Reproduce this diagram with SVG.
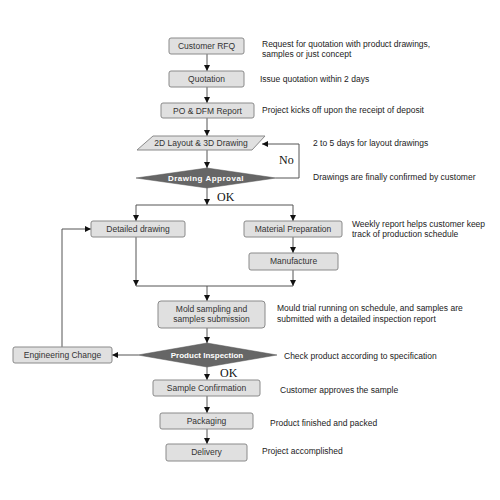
<svg xmlns="http://www.w3.org/2000/svg" width="500" height="500" viewBox="0 0 500 500">
<style>
.box{fill:#e0e0e0;stroke:#8a8a8a;stroke-width:1}
.dia{fill:#666;stroke:#555;stroke-width:0.5}
.bt{font-family:"Liberation Sans",Arial,sans-serif;font-size:8.5px;fill:#333;text-anchor:middle}
.dt{font-family:"Liberation Sans",Arial,sans-serif;font-size:8px;font-weight:bold;fill:#fff;text-anchor:middle}
.nt{font-family:"Liberation Sans",Arial,sans-serif;font-size:8.5px;fill:#222}
.st{font-family:"Liberation Serif","Times New Roman",serif;font-size:12px;fill:#111}
.ln{fill:none;stroke:#555;stroke-width:1}
</style>
<defs>
<marker id="ah" viewBox="0 0 10 10" refX="10" refY="5" markerWidth="6" markerHeight="6" markerUnits="userSpaceOnUse" orient="auto">
<path d="M0,0 L10,5 L0,10 z" fill="#111"/>
</marker>
</defs>
<rect width="500" height="500" fill="#fff"/>
<g id="connectors">
<path class="ln" d="M207,54 V71" marker-end="url(#ah)"/>
<path class="ln" d="M207,87 V103" marker-end="url(#ah)"/>
<path class="ln" d="M207,118 V136" marker-end="url(#ah)"/>
<path class="ln" d="M207,150 V168" marker-end="url(#ah)"/>
<path class="ln" d="M276,178 H299 V144 H262" marker-end="url(#ah)"/>
<path class="ln" d="M207,188 V205" marker-end="url(#ah)"/>
<path class="ln" d="M136,205 H293 V221" marker-end="url(#ah)"/>
<path class="ln" d="M136,205 V221" marker-end="url(#ah)"/>
<path class="ln" d="M293,237 V253" marker-end="url(#ah)"/>
<path class="ln" d="M136,237 V286" marker-end="url(#ah)"/>
<path class="ln" d="M293,270 V286" marker-end="url(#ah)"/>
<path class="ln" d="M136,286 H293"/>
<path class="ln" d="M207,286 V301" marker-end="url(#ah)"/>
<path class="ln" d="M207,328 V343" marker-end="url(#ah)"/>
<path class="ln" d="M138,355 H112" marker-end="url(#ah)"/>
<path class="ln" d="M62,347 V229 H91" marker-end="url(#ah)"/>
<path class="ln" d="M207,367 V380" marker-end="url(#ah)"/>
<path class="ln" d="M207,396 V413" marker-end="url(#ah)"/>
<path class="ln" d="M207,429 V444" marker-end="url(#ah)"/>
<text class="st" x="279" y="164">No</text>
<text class="st" x="217" y="201">OK</text>
<text class="st" x="220" y="377">OK</text>
</g>
<g id="n-rfq"><rect class="box" x="169" y="38" width="75" height="16" rx="2"/><text class="bt" x="206.5" y="49">Customer  RFQ</text></g>
<g id="n-quot"><rect class="box" x="169" y="71" width="75" height="16" rx="2"/><text class="bt" x="206.5" y="82">Quotation</text></g>
<g id="n-po"><rect class="box" x="161" y="103" width="93" height="15" rx="2"/><text class="bt" x="207.5" y="114">PO &amp; DFM Report</text></g>
<g id="n-layout"><polygon class="box" points="153,136 265,136 252,150 137,150"/><text class="bt" x="201" y="146">2D Layout &amp; 3D Drawing</text></g>
<g id="n-approval"><polygon class="dia" points="136,178 207,168 276,178 207,188"/><text class="dt" x="206" y="181" letter-spacing="0.5">Drawing  Approval</text></g>
<g id="n-detailed"><rect class="box" x="91" y="221" width="94" height="16" rx="2"/><text class="bt" x="138" y="232">Detailed drawing</text></g>
<g id="n-material"><rect class="box" x="244" y="221" width="98" height="16" rx="2"/><text class="bt" x="293" y="232">Material  Preparation</text></g>
<g id="n-manufacture"><rect class="box" x="249" y="253" width="89" height="17" rx="2"/><text class="bt" x="293.5" y="264">Manufacture</text></g>
<g id="n-mold"><rect class="box" x="158" y="301" width="107" height="27" rx="3"/><text class="bt" x="211.5" y="312">Mold sampling and</text><text class="bt" x="211.5" y="322">samples submission</text></g>
<g id="n-inspection"><polygon class="dia" points="138,355 207,343 277,355 207,367"/><text class="dt" x="207" y="358">Product Inspection</text></g>
<g id="n-engchange"><rect class="box" x="13" y="347" width="99" height="16" rx="2"/><text class="bt" x="62.5" y="358">Engineering Change</text></g>
<g id="n-sample"><rect class="box" x="153" y="380" width="107" height="16" rx="2"/><text class="bt" x="206.5" y="391">Sample Confirmation</text></g>
<g id="n-packaging"><rect class="box" x="160" y="413" width="93" height="16" rx="2"/><text class="bt" x="206.5" y="424">Packaging</text></g>
<g id="n-delivery"><rect class="box" x="166" y="444" width="81" height="17" rx="2"/><text class="bt" x="206.5" y="455">Delivery</text></g>
<g id="notes">
<text class="nt" x="262" y="47">Request for quotation with product drawings,</text>
<text class="nt" x="262" y="57">samples or just concept</text>
<text class="nt" x="260" y="82">Issue quotation within 2 days</text>
<text class="nt" x="262" y="113">Project kicks off upon the receipt of deposit</text>
<text class="nt" x="313" y="146">2 to 5 days for layout drawings</text>
<text class="nt" x="313" y="180">Drawings are finally confirmed by customer</text>
<text class="nt" x="352" y="227">Weekly report helps customer keep</text>
<text class="nt" x="352" y="237">track of production schedule</text>
<text class="nt" x="277" y="311">Mould trial running on schedule, and samples are</text>
<text class="nt" x="277" y="322">submitted with a detailed inspection report</text>
<text class="nt" x="284" y="359">Check product according to specification</text>
<text class="nt" x="280" y="393">Customer approves the sample</text>
<text class="nt" x="270" y="426">Product finished and packed</text>
<text class="nt" x="262" y="454">Project accomplished</text>
</g>
</svg>
